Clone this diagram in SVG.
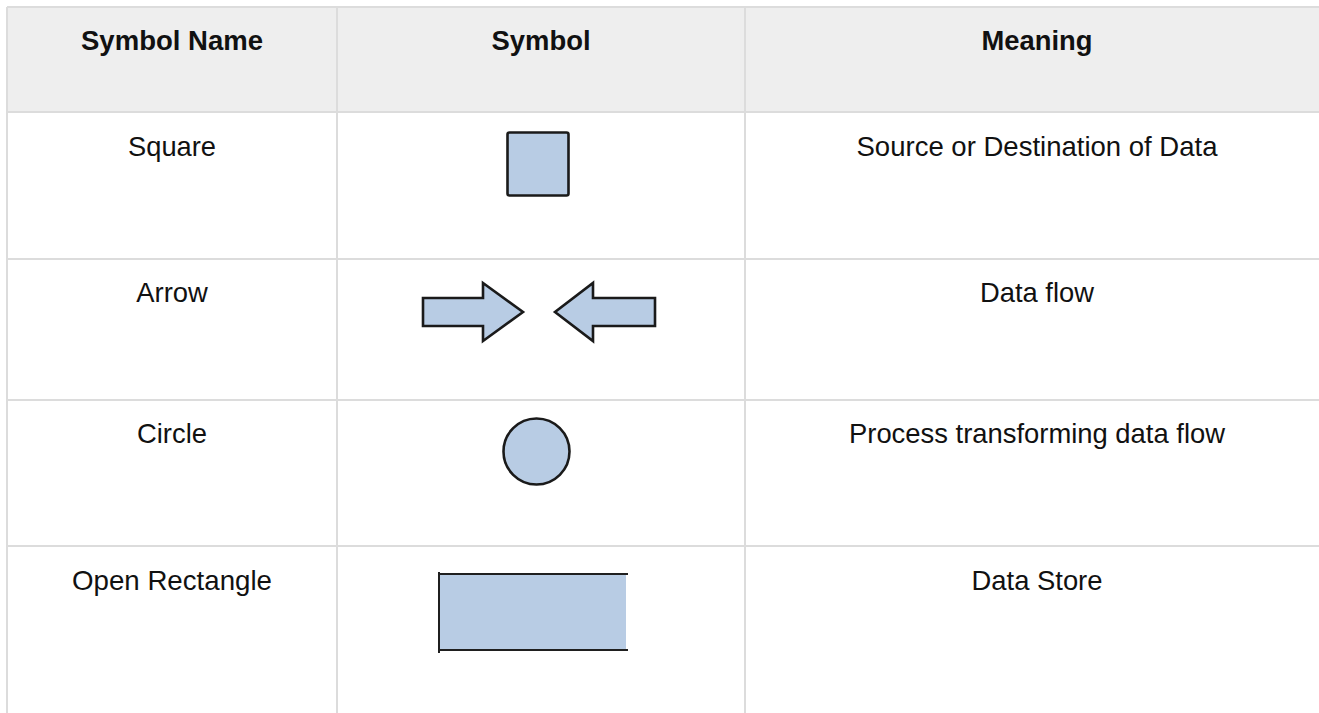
<svg xmlns="http://www.w3.org/2000/svg" width="1319" height="713" viewBox="0 0 1319 713">
  <style>
    .grid { stroke: #dcdcdc; stroke-width: 2; fill: none; }
    .hdr { font-family: "Liberation Sans", Arial, sans-serif; font-size: 27.5px; font-weight: bold; fill: #111; text-anchor: middle; }
    .cell { font-family: "Liberation Sans", Arial, sans-serif; font-size: 27.5px; fill: #111; text-anchor: middle; }
    .sym { fill: #b8cce4; stroke: #1a1a1a; stroke-width: 2.6; stroke-linejoin: miter; }
    .store-line { stroke: #1f1f1f; stroke-width: 2; fill: none; }
  </style>

  <rect width="1319" height="713" fill="#ffffff"/>

  <!-- header band -->
  <rect x="7" y="7" width="1312" height="105" fill="#eeeeee"/>

  <!-- table rules -->
  <g id="grid" class="grid">
    <line x1="7" y1="7" x2="1319" y2="7"/>
    <line x1="7" y1="112" x2="1319" y2="112"/>
    <line x1="7" y1="259" x2="1319" y2="259"/>
    <line x1="7" y1="400" x2="1319" y2="400"/>
    <line x1="7" y1="546" x2="1319" y2="546"/>
    <line x1="7" y1="7" x2="7" y2="713"/>
    <line x1="337" y1="7" x2="337" y2="713"/>
    <line x1="745" y1="7" x2="745" y2="713"/>
  </g>

  <!-- column headings -->
  <g id="header">
    <text class="hdr" x="172" y="50" textLength="182" lengthAdjust="spacingAndGlyphs">Symbol Name</text>
    <text class="hdr" x="541" y="50" textLength="99" lengthAdjust="spacingAndGlyphs">Symbol</text>
    <text class="hdr" x="1037" y="50" textLength="111" lengthAdjust="spacingAndGlyphs">Meaning</text>
  </g>

  <!-- row: square -->
  <g id="row-square">
    <text class="cell" x="172" y="156" textLength="88" lengthAdjust="spacingAndGlyphs">Square</text>
    <rect class="sym" x="507.5" y="132.5" width="61" height="63" rx="2"/>
    <text class="cell" x="1037" y="156" textLength="361" lengthAdjust="spacingAndGlyphs">Source or Destination of Data</text>
  </g>

  <!-- row: arrow -->
  <g id="row-arrow">
    <text class="cell" x="172" y="302" textLength="71.5" lengthAdjust="spacingAndGlyphs">Arrow</text>
    <path class="sym" d="M423,298 H483 V283 L523,312 L483,341 V326 H423 Z"/>
    <path class="sym" d="M655,298 H593 V283 L555,312 L593,341 V326 H655 Z"/>
    <text class="cell" x="1037" y="302" textLength="114" lengthAdjust="spacingAndGlyphs">Data flow</text>
  </g>

  <!-- row: circle -->
  <g id="row-circle">
    <text class="cell" x="172" y="443" textLength="70" lengthAdjust="spacingAndGlyphs">Circle</text>
    <circle class="sym" cx="536.5" cy="451.5" r="33"/>
    <text class="cell" x="1037" y="443" textLength="376" lengthAdjust="spacingAndGlyphs">Process transforming data flow</text>
  </g>

  <!-- row: open rectangle -->
  <g id="row-store">
    <text class="cell" x="172" y="590" textLength="200" lengthAdjust="spacingAndGlyphs">Open Rectangle</text>
    <rect x="439" y="574" width="187" height="76" fill="#b8cce4"/>
    <line class="store-line" x1="438" y1="574" x2="628" y2="574"/>
    <line class="store-line" x1="438" y1="650" x2="628" y2="650"/>
    <line class="store-line" x1="439" y1="572" x2="439" y2="653"/>
    <text class="cell" x="1037" y="590" textLength="131" lengthAdjust="spacingAndGlyphs">Data Store</text>
  </g>
</svg>
